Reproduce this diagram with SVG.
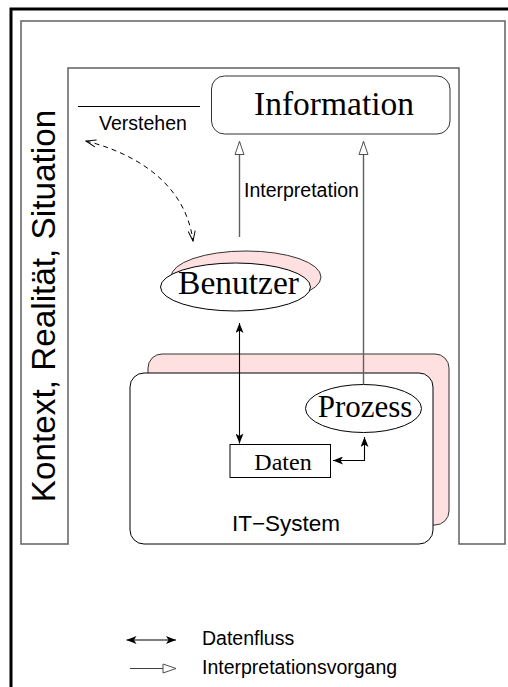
<svg xmlns="http://www.w3.org/2000/svg" width="508" height="687" viewBox="0 0 508 687">
<style>
.sans{font-family:"Liberation Sans",Arial,sans-serif;fill:#000}
.serif{font-family:"Liberation Serif","Times New Roman",serif;fill:#000}
.gray{fill:none;stroke:#606060;stroke-width:1.4}
.blk{fill:none;stroke:#000;stroke-width:1.1}
</style>
<defs>
<marker id="fill" viewBox="0 0 10 8" refX="10" refY="4" markerWidth="10" markerHeight="8" markerUnits="userSpaceOnUse" orient="auto-start-reverse">
<path d="M0,0 L10,4 L0,8 L2.5,4 z" fill="#000"/>
</marker>
<marker id="tri" viewBox="-1 -1 15 11" refX="13" refY="4.5" markerWidth="15" markerHeight="11" markerUnits="userSpaceOnUse" orient="auto">
<path d="M0,0 L13,4.5 L0,9 z" fill="#fff" stroke="#505050" stroke-width="1"/>
</marker>
<marker id="vee" viewBox="-1 -1 12 9" refX="10" refY="3.5" markerWidth="12" markerHeight="9" markerUnits="userSpaceOnUse" orient="auto-start-reverse">
<path d="M0,0 L10,3.5 L0,7" fill="none" stroke="#000" stroke-width="1"/>
</marker>
</defs>
<rect width="508" height="687" fill="#fff"/>
<g id="frame">
<rect x="11" y="9" width="620" height="720" fill="none" stroke="#000" stroke-width="3"/>
</g>
<g id="kontext">
<path d="M21,544 L21,21 L505,21 L505,544 L459,544 L459,68 L68,68 L68,544 Z" fill="#fff" stroke="#606060" stroke-width="1.5"/>
<text class="sans" transform="translate(55,306) rotate(-90)" font-size="33.3" text-anchor="middle">Kontext, Realität, Situation</text>
</g>
<g id="it-system">
<rect x="148" y="354" width="301" height="171" rx="14" fill="#ffe0e0" stroke="#333" stroke-width="1"/>
<rect x="130" y="373" width="303" height="171" rx="14" fill="#fff" stroke="#000" stroke-width="1"/>
<text class="sans" x="286" y="531" font-size="22.5" text-anchor="middle">IT−System</text>
</g>
<g id="information">
<rect x="211.5" y="76" width="238.5" height="58" rx="13" fill="#fff" stroke="#333" stroke-width="1"/>
<text class="serif" x="334" y="115" font-size="33.5" text-anchor="middle">Information</text>
</g>
<g id="verstehen">
<line x1="78" y1="106.5" x2="200" y2="106.5" stroke="#000" stroke-width="1"/>
<text class="sans" x="143" y="130" font-size="19.5" text-anchor="middle">Verstehen</text>
</g>
<g id="benutzer">
<ellipse cx="246" cy="277" rx="75" ry="26" fill="#ffe0e0" stroke="#333" stroke-width="1"/>
<ellipse cx="235.5" cy="287" rx="75" ry="24" fill="#fff" stroke="#000" stroke-width="1"/>
<text class="serif" x="238.5" y="294" font-size="33.5" text-anchor="middle">Benutzer</text>
</g>
<g id="prozess">
<ellipse cx="363.5" cy="408.5" rx="58" ry="24" fill="#fff" stroke="#000" stroke-width="1"/>
<text class="serif" x="365" y="417" font-size="31" text-anchor="middle">Prozess</text>
</g>
<g id="daten">
<rect x="230" y="444.5" width="100.5" height="33" fill="#fff" stroke="#000" stroke-width="1"/>
<text class="serif" x="283" y="469.5" font-size="24" text-anchor="middle">Daten</text>
</g>
<g id="connectors">
<path class="gray" d="M239.5,237 V141.5" marker-end="url(#tri)"/>
<path class="gray" d="M363.5,384.5 V141.5" marker-end="url(#tri)"/>
<text class="sans" x="244" y="196.5" font-size="19.5">Interpretation</text>
<path d="M86,141 C130,152 185,180 193,241" fill="none" stroke="#000" stroke-width="1" stroke-dasharray="5,4" marker-start="url(#vee)" marker-end="url(#vee)"/>
<path class="blk" d="M239.5,323 V443.5" marker-start="url(#fill)" marker-end="url(#fill)"/>
<path class="blk" d="M333,460.5 H364.5 V437" marker-start="url(#fill)" marker-end="url(#fill)"/>
</g>
<g id="legend">
<path class="blk" d="M126.5,640 H176" marker-start="url(#fill)" marker-end="url(#fill)"/>
<text class="sans" x="202" y="645" font-size="19.5">Datenfluss</text>
<path d="M130,668.5 H176" fill="none" stroke="#404040" stroke-width="1.1" marker-end="url(#tri)"/>
<text class="sans" x="202" y="673.5" font-size="19.5">Interpretationsvorgang</text>
</g>
</svg>
